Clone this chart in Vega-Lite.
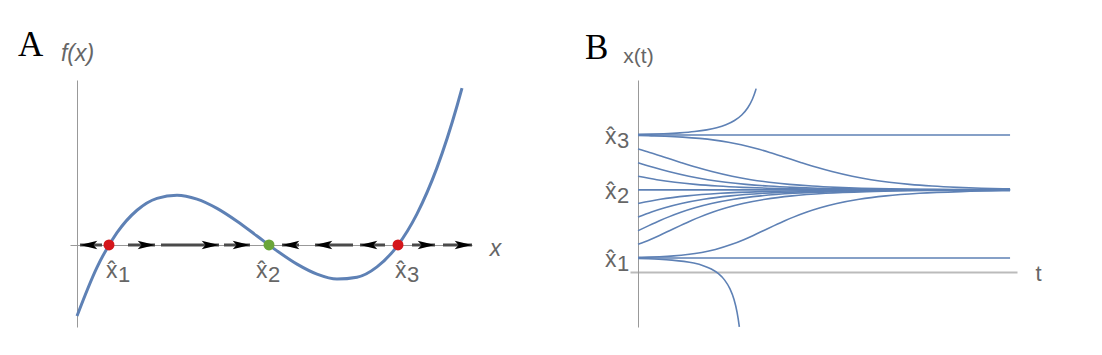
{
  "$schema": "https://vega.github.io/schema/vega-lite/v6.json",
  "autosize": {"type": "pad"},
  "padding": {"left": 18, "top": 28, "right": 61, "bottom": 30},
  "background": "white",
  "bounds": "flush",
  "spacing": 158,
  "config": {"view": {"stroke": null}, "axis": {"grid": false}},
  "datasets": {
    "curve": [
      {"x": 0, "f": -1.972}, {"x": 0.2, "f": -0.621}, {"x": 0.4, "f": 0.342}, {"x": 0.6, "f": 0.965},
      {"x": 0.8, "f": 1.296}, {"x": 1.0, "f": 1.383}, {"x": 1.2, "f": 1.274}, {"x": 1.4, "f": 1.017},
      {"x": 1.6, "f": 0.66}, {"x": 1.8, "f": 0.25}, {"x": 2.0, "f": -0.163}, {"x": 2.2, "f": -0.532},
      {"x": 2.4, "f": -0.809}, {"x": 2.6, "f": -0.946}, {"x": 2.8, "f": -0.895}, {"x": 3.0, "f": -0.608},
      {"x": 3.2, "f": -0.037}, {"x": 3.4, "f": 0.866}, {"x": 3.6, "f": 2.149}, {"x": 3.8, "f": 3.86},
      {"x": 3.85, "f": 4.36}
    ],
    "arrows": [
      {"tail": 0.25, "tip": 0.03, "dir": "left"},
      {"tail": 0.51, "tip": 0.78, "dir": "right"},
      {"tail": 0.84, "tip": 1.42, "dir": "right"},
      {"tail": 1.47, "tip": 1.73, "dir": "right"},
      {"tail": 2.22, "tip": 2.05, "dir": "left"},
      {"tail": 2.76, "tip": 2.38, "dir": "left"},
      {"tail": 3.08, "tip": 2.83, "dir": "left"},
      {"tail": 3.35, "tip": 3.58, "dir": "right"},
      {"tail": 3.66, "tip": 3.95, "dir": "right"}
    ],
    "fp": [
      {"x": 0.32, "k": "1", "s": "unstable"},
      {"x": 1.92, "k": "2", "s": "stable"},
      {"x": 3.21, "k": "3", "s": "unstable"}
    ],
    "traj": [
      {"id": "u0", "t": 0, "x": 3.2236}, {"id": "u0", "t": 0.1016, "x": 3.23}, {"id": "u0", "t": 0.2074, "x": 3.24},
      {"id": "u0", "t": 0.3386, "x": 3.26}, {"id": "u0", "t": 0.4561, "x": 3.29}, {"id": "u0", "t": 0.5538, "x": 3.33},
      {"id": "u0", "t": 0.6339, "x": 3.38}, {"id": "u0", "t": 0.7086, "x": 3.45}, {"id": "u0", "t": 0.7782, "x": 3.55},
      {"id": "u0", "t": 0.8364, "x": 3.68}, {"id": "u0", "t": 0.8852, "x": 3.85}, {"id": "u0", "t": 0.9223, "x": 4.05},
      {"id": "u0", "t": 0.9474, "x": 4.25}, {"id": "u0", "t": 0.9524, "x": 4.3},
      {"id": "c3", "t": 0, "x": 3.21}, {"id": "c3", "t": 3, "x": 3.21},
      {"id": "u1", "t": 0, "x": 3.1964}, {"id": "u1", "t": 0.1054, "x": 3.19}, {"id": "u1", "t": 0.2172, "x": 3.18},
      {"id": "u1", "t": 0.3605, "x": 3.16}, {"id": "u1", "t": 0.4961, "x": 3.13}, {"id": "u1", "t": 0.6181, "x": 3.09},
      {"id": "u1", "t": 0.7287, "x": 3.04}, {"id": "u1", "t": 0.8317, "x": 2.98}, {"id": "u1", "t": 0.9682, "x": 2.88},
      {"id": "u1", "t": 1.0617, "x": 2.8}, {"id": "u1", "t": 1.1698, "x": 2.7}, {"id": "u1", "t": 1.3176, "x": 2.56},
      {"id": "u1", "t": 1.44, "x": 2.45}, {"id": "u1", "t": 1.5641, "x": 2.35}, {"id": "u1", "t": 1.7275, "x": 2.24},
      {"id": "u1", "t": 1.8789, "x": 2.16}, {"id": "u1", "t": 2.026, "x": 2.1}, {"id": "u1", "t": 2.1894, "x": 2.05},
      {"id": "u1", "t": 2.3716, "x": 2.01}, {"id": "u1", "t": 2.5708, "x": 1.98}, {"id": "u1", "t": 2.7689, "x": 1.96},
      {"id": "u1", "t": 3, "x": 1.945},
      {"id": "u2", "t": 0, "x": 2.88}, {"id": "u2", "t": 0.0935, "x": 2.8}, {"id": "u2", "t": 0.2016, "x": 2.7},
      {"id": "u2", "t": 0.3494, "x": 2.56}, {"id": "u2", "t": 0.4718, "x": 2.45}, {"id": "u2", "t": 0.5959, "x": 2.35},
      {"id": "u2", "t": 0.7593, "x": 2.24}, {"id": "u2", "t": 0.9107, "x": 2.16}, {"id": "u2", "t": 1.0578, "x": 2.1},
      {"id": "u2", "t": 1.2212, "x": 2.05}, {"id": "u2", "t": 1.4033, "x": 2.01}, {"id": "u2", "t": 1.6026, "x": 1.98},
      {"id": "u2", "t": 1.8007, "x": 1.96}, {"id": "u2", "t": 2.0296, "x": 1.945}, {"id": "u2", "t": 2.2779, "x": 1.935},
      {"id": "u2", "t": 2.583, "x": 1.928}, {"id": "u2", "t": 2.9191, "x": 1.924}, {"id": "u2", "t": 3, "x": 1.9237},
      {"id": "u3", "t": 0, "x": 2.56}, {"id": "u3", "t": 0.1224, "x": 2.45}, {"id": "u3", "t": 0.2465, "x": 2.35},
      {"id": "u3", "t": 0.4099, "x": 2.24}, {"id": "u3", "t": 0.5613, "x": 2.16}, {"id": "u3", "t": 0.7084, "x": 2.1},
      {"id": "u3", "t": 0.8718, "x": 2.05}, {"id": "u3", "t": 1.0539, "x": 2.01}, {"id": "u3", "t": 1.2532, "x": 1.98},
      {"id": "u3", "t": 1.4513, "x": 1.96}, {"id": "u3", "t": 1.6802, "x": 1.945}, {"id": "u3", "t": 1.9285, "x": 1.935},
      {"id": "u3", "t": 2.2336, "x": 1.928}, {"id": "u3", "t": 2.5697, "x": 1.924}, {"id": "u3", "t": 3, "x": 1.922},
      {"id": "u4", "t": 0, "x": 2.24}, {"id": "u4", "t": 0.1515, "x": 2.16}, {"id": "u4", "t": 0.2986, "x": 2.1},
      {"id": "u4", "t": 0.4619, "x": 2.05}, {"id": "u4", "t": 0.6441, "x": 2.01}, {"id": "u4", "t": 0.8433, "x": 1.98},
      {"id": "u4", "t": 1.0414, "x": 1.96}, {"id": "u4", "t": 1.2704, "x": 1.945}, {"id": "u4", "t": 1.5186, "x": 1.935},
      {"id": "u4", "t": 1.8237, "x": 1.928}, {"id": "u4", "t": 2.1599, "x": 1.924}, {"id": "u4", "t": 3, "x": 1.921},
      {"id": "c2", "t": 0, "x": 1.92}, {"id": "c2", "t": 3, "x": 1.92},
      {"id": "l4", "t": 0, "x": 1.6}, {"id": "l4", "t": 0.1806, "x": 1.7}, {"id": "l4", "t": 0.3972, "x": 1.78},
      {"id": "l4", "t": 0.6655, "x": 1.84}, {"id": "l4", "t": 0.999, "x": 1.88}, {"id": "l4", "t": 1.3335, "x": 1.9},
      {"id": "l4", "t": 1.6687, "x": 1.91}, {"id": "l4", "t": 2.0042, "x": 1.915}, {"id": "l4", "t": 2.2515, "x": 1.917},
      {"id": "l4", "t": 3, "x": 1.9195},
      {"id": "l3", "t": 0, "x": 1.28}, {"id": "l3", "t": 0.1089, "x": 1.4}, {"id": "l3", "t": 0.2162, "x": 1.5},
      {"id": "l3", "t": 0.3494, "x": 1.6}, {"id": "l3", "t": 0.53, "x": 1.7}, {"id": "l3", "t": 0.7466, "x": 1.78},
      {"id": "l3", "t": 1.0149, "x": 1.84}, {"id": "l3", "t": 1.3484, "x": 1.88}, {"id": "l3", "t": 1.683, "x": 1.9},
      {"id": "l3", "t": 2.0181, "x": 1.91}, {"id": "l3", "t": 2.3536, "x": 1.915}, {"id": "l3", "t": 2.6009, "x": 1.917},
      {"id": "l3", "t": 3, "x": 1.9187},
      {"id": "l2", "t": 0, "x": 0.96}, {"id": "l2", "t": 0.0872, "x": 1.08}, {"id": "l2", "t": 0.178, "x": 1.2},
      {"id": "l2", "t": 0.243, "x": 1.28}, {"id": "l2", "t": 0.3518, "x": 1.4}, {"id": "l2", "t": 0.4592, "x": 1.5},
      {"id": "l2", "t": 0.5924, "x": 1.6}, {"id": "l2", "t": 0.773, "x": 1.7}, {"id": "l2", "t": 0.9896, "x": 1.78},
      {"id": "l2", "t": 1.2579, "x": 1.84}, {"id": "l2", "t": 1.5914, "x": 1.88}, {"id": "l2", "t": 1.9259, "x": 1.9},
      {"id": "l2", "t": 2.2611, "x": 1.91}, {"id": "l2", "t": 2.5966, "x": 1.915}, {"id": "l2", "t": 2.8439, "x": 1.917},
      {"id": "l2", "t": 3, "x": 1.9176},
      {"id": "l1", "t": 0, "x": 0.64}, {"id": "l1", "t": 0.0957, "x": 0.75}, {"id": "l1", "t": 0.1731, "x": 0.85},
      {"id": "l1", "t": 0.2536, "x": 0.96}, {"id": "l1", "t": 0.3408, "x": 1.08}, {"id": "l1", "t": 0.4316, "x": 1.2},
      {"id": "l1", "t": 0.4966, "x": 1.28}, {"id": "l1", "t": 0.6054, "x": 1.4}, {"id": "l1", "t": 0.7128, "x": 1.5},
      {"id": "l1", "t": 0.846, "x": 1.6}, {"id": "l1", "t": 1.0266, "x": 1.7}, {"id": "l1", "t": 1.2432, "x": 1.78},
      {"id": "l1", "t": 1.5115, "x": 1.84}, {"id": "l1", "t": 1.845, "x": 1.88}, {"id": "l1", "t": 2.1795, "x": 1.9},
      {"id": "l1", "t": 2.5147, "x": 1.91}, {"id": "l1", "t": 2.8502, "x": 1.915}, {"id": "l1", "t": 3, "x": 1.9163},
      {"id": "l0", "t": 0, "x": 0.3336}, {"id": "l0", "t": 0.0848, "x": 0.34}, {"id": "l0", "t": 0.1746, "x": 0.35},
      {"id": "l0", "t": 0.2894, "x": 0.37}, {"id": "l0", "t": 0.3977, "x": 0.4}, {"id": "l0", "t": 0.5141, "x": 0.45},
      {"id": "l0", "t": 0.624, "x": 0.52}, {"id": "l0", "t": 0.7568, "x": 0.64}, {"id": "l0", "t": 0.8525, "x": 0.75},
      {"id": "l0", "t": 0.9299, "x": 0.85}, {"id": "l0", "t": 1.0104, "x": 0.96}, {"id": "l0", "t": 1.0976, "x": 1.08},
      {"id": "l0", "t": 1.1884, "x": 1.2}, {"id": "l0", "t": 1.2534, "x": 1.28}, {"id": "l0", "t": 1.3622, "x": 1.4},
      {"id": "l0", "t": 1.4696, "x": 1.5}, {"id": "l0", "t": 1.6028, "x": 1.6}, {"id": "l0", "t": 1.7834, "x": 1.7},
      {"id": "l0", "t": 2.0, "x": 1.78}, {"id": "l0", "t": 2.2683, "x": 1.84}, {"id": "l0", "t": 2.6018, "x": 1.88},
      {"id": "l0", "t": 2.9363, "x": 1.9}, {"id": "l0", "t": 3, "x": 1.902},
      {"id": "c1", "t": 0, "x": 0.32}, {"id": "c1", "t": 3, "x": 0.32},
      {"id": "d0", "t": 0, "x": 0.3064}, {"id": "d0", "t": 0.0821, "x": 0.3}, {"id": "d0", "t": 0.1677, "x": 0.29},
      {"id": "d0", "t": 0.2741, "x": 0.27}, {"id": "d0", "t": 0.3697, "x": 0.24}, {"id": "d0", "t": 0.4496, "x": 0.2},
      {"id": "d0", "t": 0.526, "x": 0.14}, {"id": "d0", "t": 0.5911, "x": 0.06}, {"id": "d0", "t": 0.6488, "x": -0.05},
      {"id": "d0", "t": 0.6989, "x": -0.2}, {"id": "d0", "t": 0.7409, "x": -0.4}, {"id": "d0", "t": 0.7737, "x": -0.65},
      {"id": "d0", "t": 0.7986, "x": -0.95}, {"id": "d0", "t": 0.8149, "x": -1.25}, {"id": "d0", "t": 0.8171, "x": -1.3}
    ]
  },
  "hconcat": [
    {
      "width": 402,
      "height": 247,
      "title": {"text": "A", "anchor": "start", "frame": "group", "font": "Liberation Serif", "fontSize": 35, "fontWeight": "normal", "color": "#000000", "dx": -52, "dy": 49, "offset": 0, "baseline": "alphabetic"},
      "layer": [
        {
          "data": {"name": "curve"},
          "mark": {"type": "line", "color": "#5e81b5", "strokeWidth": 3, "interpolate": "monotone", "clip": true},
          "encoding": {
            "x": {"field": "x", "type": "quantitative", "scale": {"domain": [-0.07, 3.95], "nice": false, "zero": false},
              "axis": {"orient": "bottom", "offset": -82, "domainColor": "#999999", "domainWidth": 1, "ticks": false, "labels": false, "grid": false,
                "title": "x", "titleFont": "Liberation Sans", "titleFontStyle": "italic", "titleFontWeight": "normal", "titleFontSize": 23, "titleColor": "#666666",
                "titleX": 425, "titleY": 10, "titleAlign": "center", "titleBaseline": "alphabetic", "titleAngle": 0}},
            "y": {"field": "f", "type": "quantitative", "scale": {"domain": [-2.278, 4.583], "nice": false, "zero": false},
              "axis": {"orient": "left", "offset": -7, "domainColor": "#999999", "domainWidth": 1, "ticks": false, "labels": false, "grid": false,
                "title": "f(x)", "titleFont": "Liberation Sans", "titleFontStyle": "italic", "titleFontWeight": "normal", "titleFontSize": 23, "titleColor": "#666666",
                "titleX": 0, "titleY": -20, "titleAlign": "center", "titleBaseline": "alphabetic", "titleAngle": 0}}
          }
        },
        {
          "data": {"name": "arrows"},
          "mark": {"type": "rule", "color": "#4a4a4a", "strokeWidth": 3},
          "encoding": {
            "x": {"field": "tail", "type": "quantitative"},
            "x2": {"field": "tip"},
            "y": {"datum": 0, "type": "quantitative"}
          }
        },
        {
          "data": {"name": "arrows"},
          "mark": {"type": "point", "filled": true, "color": "#000000", "opacity": 1, "size": 300, "strokeWidth": 0},
          "encoding": {
            "x": {"field": "tip", "type": "quantitative"},
            "y": {"datum": 0, "type": "quantitative"},
            "shape": {"field": "dir", "type": "nominal", "scale": {"domain": ["left", "right"], "range": ["M0,0L2,-0.5L1.55,0L2,0.5Z", "M0,0L-2,-0.5L-1.55,0L-2,0.5Z"]}, "legend": null}
          }
        },
        {
          "data": {"name": "fp"},
          "mark": {"type": "circle", "size": 120, "opacity": 1},
          "encoding": {
            "x": {"field": "x", "type": "quantitative"},
            "y": {"datum": 0, "type": "quantitative"},
            "color": {"field": "s", "type": "nominal", "scale": {"domain": ["stable", "unstable"], "range": ["#6aa53a", "#d4161b"]}, "legend": null}
          }
        },
        {
          "data": {"name": "fp"},
          "transform": [{"filter": "datum.k != '2'"}],
          "mark": {"type": "text", "text": "x̂", "font": "Liberation Sans", "fontSize": 23, "color": "#666666", "align": "left", "baseline": "alphabetic", "dx": -3, "dy": 33},
          "encoding": {"x": {"field": "x", "type": "quantitative"}, "y": {"datum": 0, "type": "quantitative"}}
        },
        {
          "data": {"name": "fp"},
          "transform": [{"filter": "datum.k != '2'"}],
          "mark": {"type": "text", "font": "Liberation Sans", "fontSize": 22, "color": "#666666", "align": "left", "baseline": "alphabetic", "dx": 9, "dy": 37},
          "encoding": {"x": {"field": "x", "type": "quantitative"}, "y": {"datum": 0, "type": "quantitative"}, "text": {"field": "k"}}
        },
        {
          "data": {"name": "fp"},
          "transform": [{"filter": "datum.k == '2'"}],
          "mark": {"type": "text", "text": "x̂", "font": "Liberation Sans", "fontSize": 23, "color": "#666666", "align": "left", "baseline": "alphabetic", "dx": -13, "dy": 33},
          "encoding": {"x": {"field": "x", "type": "quantitative"}, "y": {"datum": 0, "type": "quantitative"}}
        },
        {
          "data": {"name": "fp"},
          "transform": [{"filter": "datum.k == '2'"}],
          "mark": {"type": "text", "font": "Liberation Sans", "fontSize": 22, "color": "#666666", "align": "left", "baseline": "alphabetic", "dx": -1, "dy": 37},
          "encoding": {"x": {"field": "x", "type": "quantitative"}, "y": {"datum": 0, "type": "quantitative"}, "text": {"field": "k"}}
        }
      ]
    },
    {
      "width": 387,
      "height": 247,
      "title": {"text": "B", "anchor": "start", "frame": "group", "font": "Liberation Serif", "fontSize": 35, "fontWeight": "normal", "color": "#000000", "dx": -45, "dy": 49, "offset": 0, "baseline": "alphabetic"},
      "layer": [
        {
          "data": {"name": "traj"},
          "mark": {"type": "line", "color": "#5e81b5", "strokeWidth": 1.6, "interpolate": "monotone", "clip": true},
          "encoding": {
            "x": {"field": "t", "type": "quantitative", "scale": {"domain": [-0.0645, 3.056], "nice": false, "zero": false},
              "axis": {"orient": "bottom", "offset": -55, "domainColor": "#bbbbbb", "domainWidth": 2, "ticks": false, "labels": false, "grid": false,
                "title": "t", "titleFont": "Liberation Sans", "titleFontStyle": "normal", "titleFontWeight": "normal", "titleFontSize": 22, "titleColor": "#666666",
                "titleX": 408, "titleY": 8, "titleAlign": "center", "titleBaseline": "alphabetic", "titleAngle": 0}},
            "y": {"field": "x", "type": "quantitative", "scale": {"domain": [-1.302, 4.502], "nice": false, "zero": false},
              "axis": {"orient": "left", "offset": -8, "domainColor": "#999999", "domainWidth": 1, "ticks": false, "labels": false, "grid": false,
                "title": "x(t)", "titleFont": "Liberation Sans", "titleFontStyle": "normal", "titleFontWeight": "normal", "titleFontSize": 21, "titleColor": "#666666",
                "titleX": 0, "titleY": -18, "titleAlign": "center", "titleBaseline": "alphabetic", "titleAngle": 0}},
            "detail": {"field": "id", "type": "nominal"}
          }
        },
        {
          "data": {"name": "fp"},
          "mark": {"type": "text", "text": "x̂", "font": "Liberation Sans", "fontSize": 23, "color": "#666666", "align": "left", "baseline": "alphabetic", "dx": -33, "dy": 9},
          "encoding": {"x": {"datum": 0, "type": "quantitative"}, "y": {"field": "x", "type": "quantitative"}}
        },
        {
          "data": {"name": "fp"},
          "mark": {"type": "text", "font": "Liberation Sans", "fontSize": 22, "color": "#666666", "align": "left", "baseline": "alphabetic", "dx": -21, "dy": 13},
          "encoding": {"x": {"datum": 0, "type": "quantitative"}, "y": {"field": "x", "type": "quantitative"}, "text": {"field": "k"}}
        }
      ]
    }
  ]
}
